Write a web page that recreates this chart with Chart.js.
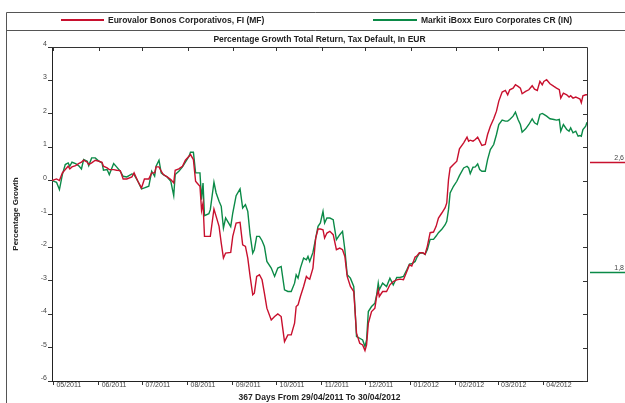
<!DOCTYPE html>
<html>
<head>
<meta charset="utf-8">
<script src="https://cdn.jsdelivr.net/npm/chart.js@4/dist/chart.umd.min.js"></script>
<style>
  html, body { margin: 0; padding: 0; background: #fff; }
  #wrap { width: 625px; height: 403px; position: relative; }
</style>
</head>
<body>
<div id="wrap"><canvas id="chart"></canvas></div>
<script>
// ── Data (days counted along the x axis) ──
const days = [
  1, 4.1, 6.1, 8.1, 10.1, 12.1, 13.2, 14.7, 17.2, 19.2, 21.2, 22.7, 25.2, 26.2, 28.2, 30.7,
  33.2, 35.3, 36.3, 38.8, 40.3, 43.3, 45.3, 47.8, 49.8, 52.3, 55.8, 57.3, 59.9, 62.4, 64.4,
  67.4, 69.4, 71.4, 72.4, 74.4, 75.9, 77.4, 80, 82.5, 84.5, 85.5, 88, 90.5, 92.5, 95, 96, 98,
  99.5, 100.5, 102.5, 103.6, 104.6, 105.6, 108.6, 109.6, 112.1, 113.6, 115.6, 117.1, 118.6,
  120.1, 123.6, 125, 127.3, 130, 131.8, 133.7, 135.3, 136.9, 138.7, 139.8, 141.4, 143.3,
  145.1, 146.7, 148.4, 151.4, 153.7, 155.9, 158.2, 160.5, 162.8, 165.1, 167.4, 168.5, 169.8,
  171.4, 173.6, 175.5, 176.6, 177.8, 180, 181.9, 183.5, 185.1, 186.9, 188, 189.6, 191.6,
  193.9, 196.1, 198.4, 200.3, 201.9, 203.5, 205.7, 208, 209.9, 212.1, 214.1, 215.7, 216.8,
  218, 220.2, 222.5, 223.7, 224.8, 225.5, 227.8, 230.5, 232.8, 235.1, 237.5, 239.8, 242.1,
  244.4, 246.2, 247.8, 250.1, 251.2, 253, 255.3, 256.9, 258.5, 260.4, 262.7, 264.5, 266.1,
  268.4, 270.7, 271.8, 273, 274.1, 276.4, 278.7, 280.5, 283.4, 285.7, 286.8, 287.9, 289.8,
  291.4, 293, 294.4, 295.9, 298.2, 299.8, 301.7, 304, 305.9, 307.5, 309.8, 312, 313.6, 315,
  317.3, 318.9, 320.7, 322.3, 323.5, 325.9, 328.1, 330.4, 332, 333.9, 335.7, 337.3, 338.4,
  340.3, 342.6, 345.3, 347.1, 349, 350, 351.8, 354.1, 355.7, 356.8, 358.4, 360.3, 361.9,
  363.2, 364.1, 365.2, 367.1, 368
];
const fundValues = [
  0, 0.05, 0, 0.23, 0.33, 0.43, 0.35, 0.41, 0.45, 0.51, 0.55, 0.61, 0.55, 0.48, 0.53, 0.61,
  0.58, 0.55, 0.43, 0.38, 0.33, 0.33, 0.31, 0.30, 0.05, 0.05, 0.11, 0.23, -0.02, -0.22, 0.05,
  0.05, 0.23, 0.23, 0.41, 0.41, 0.28, 0.18, 0.11, 0.03, -0.07, 0.31, 0.35, 0.43, 0.61, 0.73, 0.78, 0.63,
  -0.02, -0.07, -0.17, -0.89, -0.67, -1.67, -1.67, -1.67, -0.85, -1.07, -1.37, -1.87, -2.32,
  -2.17, -2.15, -1.67, -1.27, -1.25, -1.92, -1.97, -2.32, -2.87, -3.42, -3.37, -2.87, -2.82,
  -2.97, -3.37, -3.82, -4.17, -4.07, -3.99, -4.07, -4.82, -4.62, -4.62, -4.27, -3.77, -3.72,
  -3.47, -3.17, -2.87, -2.92, -2.95, -2.62, -1.72, -1.45, -1.45, -1.47, -1.72, -1.57, -1.52,
  -1.62, -2.07, -2.02, -2.07, -2.27, -2.87, -3.17, -3.32, -4.57, -4.87, -4.92, -5.09, -4.92,
  -4.27, -3.92, -3.82, -3.47, -3.27, -3.47, -3.32, -3.32, -3.12, -3.02, -2.97, -2.95, -2.97,
  -2.72, -2.52, -2.56, -2.29, -2.26, -2.16, -2.16, -2.21, -1.96, -1.56, -1.54, -1.37, -1.12,
  -0.97, -0.81, -0.67, 0.03, 0.38, 0.48, 0.58, 0.95, 1.13, 1.30, 1.18, 1.21, 1.18,
  1.23, 1.30, 1.18, 1.05, 1.08, 1.38, 1.63, 1.85, 2.08, 2.38, 2.65, 2.70, 2.57, 2.72,
  2.77, 2.87, 2.82, 2.77, 2.60, 2.67, 2.72, 2.84, 2.74, 2.70, 2.97, 2.87, 2.97,
  3.02, 2.90, 2.82, 2.77, 2.72, 2.47, 2.62, 2.57, 2.50, 2.54, 2.47, 2.50, 2.47,
  2.44, 2.33, 2.54, 2.57, 2.57
];
const indexValues = [
  0, -0.05, -0.27, 0.18, 0.48, 0.53, 0.43, 0.55, 0.51, 0.45, 0.35, 0.63, 0.58, 0.45, 0.68, 0.68,
  0.58, 0.53, 0.31, 0.33, 0.18, 0.51, 0.41, 0.28, 0.13, 0.11, 0.20, 0.18, -0.02, -0.25, -0.22,
  -0.17, 0.28, 0.13, 0.43, 0.61, 0.23, 0.18, 0.11, -0.02, -0.45, 0.18, 0.28, 0.41, 0.55, 0.73, 0.85, 0.85,
  0.23, 0.23, 0.23, -0.57, -0.07, -1.05, -0.99, -0.87, -0.05, -0.37, -0.62, -0.77, -1.42,
  -1.12, -1.38, -0.97, -0.45, -0.25, -0.82, -0.72, -0.92, -1.62, -2.17, -2.07, -1.67, -1.67,
  -1.80, -1.97, -2.42, -2.62, -2.87, -2.62, -2.57, -3.27, -3.32, -3.32, -3.07, -2.82, -2.92,
  -2.62, -2.32, -2.37, -2.27, -2.42, -2.15, -1.72, -1.37, -1.27, -0.92, -1.27, -1.12, -1.12,
  -1.17, -1.77, -1.62, -1.52, -2.07, -2.82, -2.92, -3.17, -4.67, -4.72, -4.77, -4.97, -4.77,
  -3.92, -3.77, -3.67, -3.42, -3.07, -3.27, -3.07, -3.17, -2.92, -3.12, -2.90, -2.90, -2.87,
  -2.67, -2.50, -2.49, -2.42, -2.31, -2.18, -2.16, -2.21, -2.06, -1.76, -1.76, -1.66, -1.56,
  -1.46, -1.32, -1.22, -0.87, -0.37, -0.17, -0.02, 0.15, 0.38, 0.43, 0.38, 0.21, 0.40,
  0.41, 0.50, 0.33, 0.28, 0.28, 0.63, 0.93, 1.08, 1.38, 1.68, 1.81, 1.78, 1.78, 1.83,
  1.93, 2.05, 1.83, 1.68, 1.45, 1.55, 1.68, 1.85, 1.73, 1.68, 1.98, 2.01, 1.98,
  1.93, 1.85, 1.83, 1.81, 1.83, 1.48, 1.68, 1.53, 1.48, 1.58, 1.43, 1.48, 1.33,
  1.35, 1.33, 1.53, 1.63, 1.75
];

const monthTickDays = [2, 33, 63, 94, 125, 155, 186, 216, 247, 278, 307, 338];
const monthTickLabels = ['05/2011', '06/2011', '07/2011', '08/2011', '09/2011', '10/2011',
  '11/2011', '12/2011', '01/2012', '02/2012', '03/2012', '04/2012'];

const seriesNames = ['Eurovalor Bonos Corporativos, FI (MF)', 'Markit iBoxx Euro Corporates CR (IN)'];
const seriesColors = ['#C8102E', '#0B8A47'];
const chartTitle = 'Percentage Growth Total Return, Tax Default, In EUR';
const xTitle = '367 Days From 29/04/2011 To 30/04/2012';
const yTitle = 'Percentage Growth';

const FONT = "'Liberation Sans', Arial, sans-serif";

// ── Frame, legend, title, inner ticks and end-value markers ──
const framePlugin = {
  id: 'frame',
  beforeDraw(chart) {
    const { ctx, width, height } = chart;
    ctx.save();
    ctx.fillStyle = '#fff';
    ctx.fillRect(0, 0, width, height);
    ctx.restore();
  },
  afterDraw(chart) {
    const { ctx, width, height, chartArea: A, scales } = chart;
    ctx.save();

    // outer box and legend divider
    ctx.strokeStyle = '#555';
    ctx.lineWidth = 1;
    ctx.beginPath();
    ctx.moveTo(6.5, height); ctx.lineTo(6.5, 12.5); ctx.lineTo(width, 12.5);
    ctx.moveTo(6.5, 30.5); ctx.lineTo(width, 30.5);
    ctx.stroke();

    // legend
    const legendX = [[61, 104], [373, 417]];
    ctx.font = `bold 8.5px ${FONT}`;
    ctx.textBaseline = 'middle';
    ctx.textAlign = 'left';
    chart.data.datasets.forEach((ds, i) => {
      ctx.strokeStyle = ds.borderColor;
      ctx.lineWidth = 2;
      ctx.beginPath();
      ctx.moveTo(legendX[i][0], 20); ctx.lineTo(legendX[i][1], 20);
      ctx.stroke();
      ctx.fillStyle = '#222';
      ctx.fillText(ds.label, legendX[i][1] + 4, 20.5);
    });

    // chart title
    ctx.textAlign = 'center';
    ctx.fillText(chartTitle, (A.left + A.right) / 2, 39.5);

    // top and right border with inward ticks
    ctx.strokeStyle = '#333';
    ctx.lineWidth = 1;
    ctx.beginPath();
    ctx.moveTo(A.left, A.top + 0.5); ctx.lineTo(A.right + 0.5, A.top + 0.5); ctx.lineTo(A.right + 0.5, A.bottom);
    scales.x.ticks.forEach(t => {
      const px = Math.round(scales.x.getPixelForValue(t.value)) + 0.5;
      ctx.moveTo(px, A.top); ctx.lineTo(px, A.top + 4);
    });
    scales.y.ticks.forEach(t => {
      const py = Math.round(scales.y.getPixelForValue(t.value)) + 0.5;
      ctx.moveTo(A.right, py); ctx.lineTo(A.right - 4, py);
    });
    ctx.stroke();

    // end values beside the plot
    ctx.font = `7px ${FONT}`;
    ctx.textAlign = 'right';
    ctx.textBaseline = 'bottom';
    chart.data.datasets.forEach(ds => {
      const last = ds.data[ds.data.length - 1].y;
      const v = Math.round(last * 10) / 10;
      const py = scales.yEnd.getPixelForValue(v);
      ctx.strokeStyle = ds.borderColor;
      ctx.lineWidth = 1.5;
      ctx.beginPath();
      ctx.moveTo(A.right + 3, py); ctx.lineTo(width, py);
      ctx.stroke();
      ctx.fillStyle = '#444';
      ctx.fillText(v.toFixed(1).replace('.', ','), width - 1, py - 1);
    });

    ctx.restore();
  },
};

const canvas = document.getElementById('chart');
new Chart(canvas, {
  type: 'line',
  plugins: [framePlugin],
  data: {
    datasets: [
      {
        label: seriesNames[0],
        data: days.map((d, i) => ({ x: d, y: fundValues[i] })),
        borderColor: seriesColors[0],
        borderWidth: 1.4,
        pointRadius: 0,
        tension: 0,
        fill: false,
      },
      {
        label: seriesNames[1],
        data: days.map((d, i) => ({ x: d, y: indexValues[i] })),
        borderColor: seriesColors[1],
        borderWidth: 1.4,
        pointRadius: 0,
        tension: 0,
        fill: false,
      },
    ],
  },
  options: {
    responsive: true,
    maintainAspectRatio: false,
    animation: false,
    devicePixelRatio: 1,
    layout: { padding: { top: 47, right: 38, left: 0, bottom: 0 } },
    plugins: {
      legend: { display: false },
      title: { display: false },
      tooltip: { enabled: false },
    },
    scales: {
      x: {
        type: 'linear',
        min: 1,
        max: 368,
        afterBuildTicks(scale) {
          scale.ticks = monthTickDays.map(v => ({ value: v }));
        },
        afterFit(scale) { scale.height = 22; },
        ticks: {
          autoSkip: false,
          maxRotation: 0,
          align: 'start',
          labelOffset: 3,
          padding: -4,
          color: '#444',
          font: { size: 7, family: FONT },
          callback: (v, i) => monthTickLabels[i],
        },
        grid: { display: true, drawOnChartArea: false, tickLength: 4, color: '#333' },
        border: { display: true, color: '#222', width: 1 },
        title: {
          display: true,
          text: xTitle,
          color: '#222',
          font: { size: 8.5, weight: 'bold', family: FONT },
          padding: { top: 0, bottom: 0 },
        },
      },
      y: {
        type: 'linear',
        min: -6,
        max: 4,
        afterFit(scale) { scale.width = 52; },
        ticks: {
          stepSize: 1,
          labelOffset: -3,
          padding: 1,
          color: '#444',
          font: { size: 7, family: FONT },
        },
        grid: { display: true, drawOnChartArea: false, tickLength: 4, color: '#333' },
        border: { display: true, color: '#222', width: 1 },
        title: {
          display: true,
          text: yTitle,
          color: '#222',
          font: { size: 8, weight: 'bold', family: FONT },
          padding: { top: 11, bottom: 0 },
        },
      },
      yEnd: {
        type: 'linear',
        display: false,
        min: 1.01,
        max: 3.44,
      },
    },
  },
});
</script>
</body>
</html>
